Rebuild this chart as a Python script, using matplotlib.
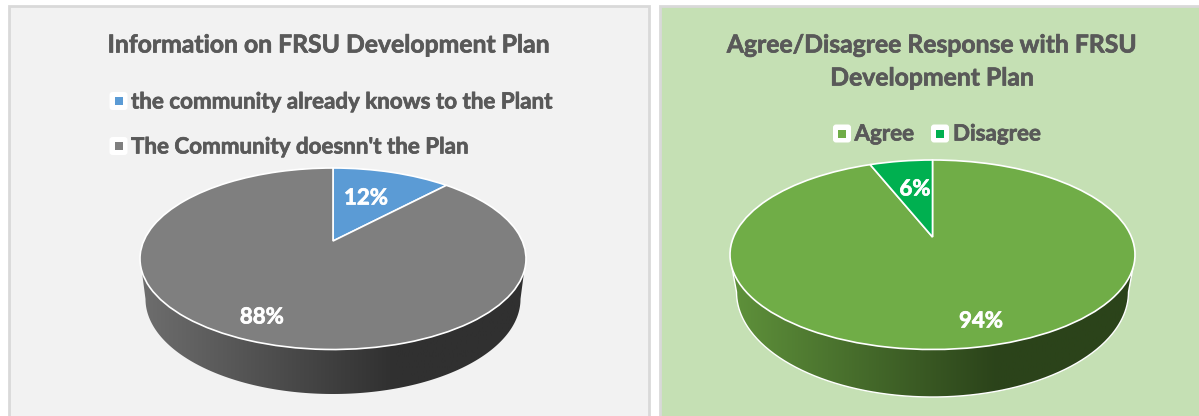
import numpy as np
import matplotlib
matplotlib.use("Agg")
import matplotlib.pyplot as plt
import matplotlib.patheffects as pe
from matplotlib.patches import FancyBboxPatch, Polygon, Rectangle
from matplotlib.colors import LinearSegmentedColormap
from matplotlib.transforms import Transform

plt.rcParams['font.family'] = ['Lato', 'DejaVu Sans']

# data
info_labels = ["the community already knows to the Plant", "The Community doesnn't the Plan"]
info_values = [12, 88]
info_colors = ["#5b9bd5", "#7f7f7f"]
agree_labels = ["Agree", "Disagree"]
agree_values = [94, 6]
agree_colors = ["#70ad47", "#00b050"]

TEXT = "#595959"
THICK = [pe.withStroke(linewidth=0.5, foreground=TEXT)]
THICK_WHITE = [pe.withStroke(linewidth=0.5, foreground="white")]


class Tilt(Transform):
    # maps the unit circle onto the tilted pie top, far side shrunk
    input_dims = output_dims = 2

    def __init__(self, cx, apex, rx, up, down):
        super().__init__()
        self.k = (down - up) / (down + up)
        self.b = up * (1 + self.k)
        self.c = rx * np.sqrt(1 - self.k ** 2)
        self.cx, self.apex = cx, apex

    def transform_non_affine(self, xy):
        xy = np.asarray(xy)
        d = 1 + self.k * xy[:, 1]
        return np.column_stack([self.cx + self.c * xy[:, 0] / d,
                                self.apex - self.b * xy[:, 1] / d])


def draw_pie(ax, values, colors, cx, apex, rx, up, down, low_ell, wall, rim, wall_edge):
    tilt = Tilt(cx, apex, rx, up, down)

    # front of the top rim, left to right
    t = np.radians(np.linspace(199, 341, 300))
    top = tilt.transform_non_affine(np.column_stack([np.cos(t), np.sin(t)]))

    # lower rim, right to left
    low_rx, low_cy, low_ry = low_ell
    s = np.radians(np.linspace(0, 180, 300))
    low = np.column_stack([cx + low_rx * np.cos(s), low_cy + low_ry * np.sin(s)])

    # side wall, gradient clipped to the band between both rims
    cmap = LinearSegmentedColormap.from_list("wall", [(0, wall[0]), (0.66, wall[1]), (1, wall[1])])
    im = ax.imshow(np.linspace(0, 1, 256).reshape(1, -1), extent=(cx - rx, cx + rx, 416, 0),
                   cmap=cmap, aspect="auto", zorder=2)
    band = Polygon(np.vstack([top, low]), closed=True, transform=ax.transData)
    im.set_clip_path(band)
    if wall_edge:
        edge = np.vstack([top[-1], low, top[0]])
        ax.plot(edge[:, 0], edge[:, 1], color=wall_edge, lw=1, zorder=2.5)

    # top face
    wedges, _ = ax.pie(values, colors=colors, startangle=90, counterclock=False,
                       radius=1, wedgeprops=dict(edgecolor=rim, linewidth=1.2))
    for w in wedges:
        w.set_transform(tilt + ax.transData)
        w.set_zorder(3)


def key(x, y, color):
    ax.add_patch(FancyBboxPatch((x - 7, y - 7), 14, 14, boxstyle="round,pad=2,rounding_size=3",
                                fc="white", ec="none", zorder=5))
    ax.add_patch(Rectangle((x - 4, y - 4), 8, 8, fc=color, ec="none", zorder=6))


fig = plt.figure(figsize=(11.99, 4.16), dpi=100)
ax = fig.add_axes([0, 0, 1, 1])

draw_pie(ax, info_values, info_colors, 333, 241, 193, 73, 108.5, (187.5, 299, 95),
         ("#6e6e6e", "#303030"), "#ffffff", None)
draw_pie(ax, agree_values, agree_colors, 932.5, 237, 202.5, 77, 112.5, (196, 292, 105),
         ("#5f923b", "#2b431a"), "#ffffff", "#ffffff")

ax.set_aspect("auto")
ax.set_xlim(0, 1199)
ax.set_ylim(416, 0)
ax.axis("off")

# panels
ax.add_patch(Rectangle((9, 6), 640, 420, fc="#f2f2f2", ec="#d9d9d9", lw=2, zorder=0))
ax.add_patch(Rectangle((660, 6), 560, 420, fc="#c5e0b4", ec="#d9d9d9", lw=2, zorder=0))

# titles
title_kw = dict(ha="center", va="center", fontsize=17.8, fontweight="bold", color=TEXT,
                zorder=5, path_effects=THICK)
ax.text(328.5, 45, "Information on FRSU Development Plan", **title_kw)
ax.text(932, 45, "Agree/Disagree Response with FRSU", **title_kw)
ax.text(932, 78, "Development Plan", **title_kw)

# legends
leg_kw = dict(va="center", fontsize=16.1, fontweight="bold", color=TEXT, zorder=5, path_effects=THICK)
key(118.5, 101, info_colors[0])
ax.text(131, 102, info_labels[0], **leg_kw)
key(118.5, 146, info_colors[1])
ax.text(131, 147, info_labels[1], **leg_kw)
key(842, 133.5, agree_colors[0])
ax.text(854.5, 134, agree_labels[0], **leg_kw)
key(940, 133.5, agree_colors[1])
ax.text(953, 134, agree_labels[1], **leg_kw)

# data labels
for x, y, v in [(366, 198, info_values[0]), (262, 317, info_values[1]),
                (981, 321, agree_values[0]), (915, 189, agree_values[1])]:
    ax.text(x, y, f"{v}%", ha="center", va="center", fontsize=16, fontweight="bold",
            color="white", zorder=7, path_effects=THICK_WHITE)

fig.savefig("out.png", dpi=100, facecolor="white")
